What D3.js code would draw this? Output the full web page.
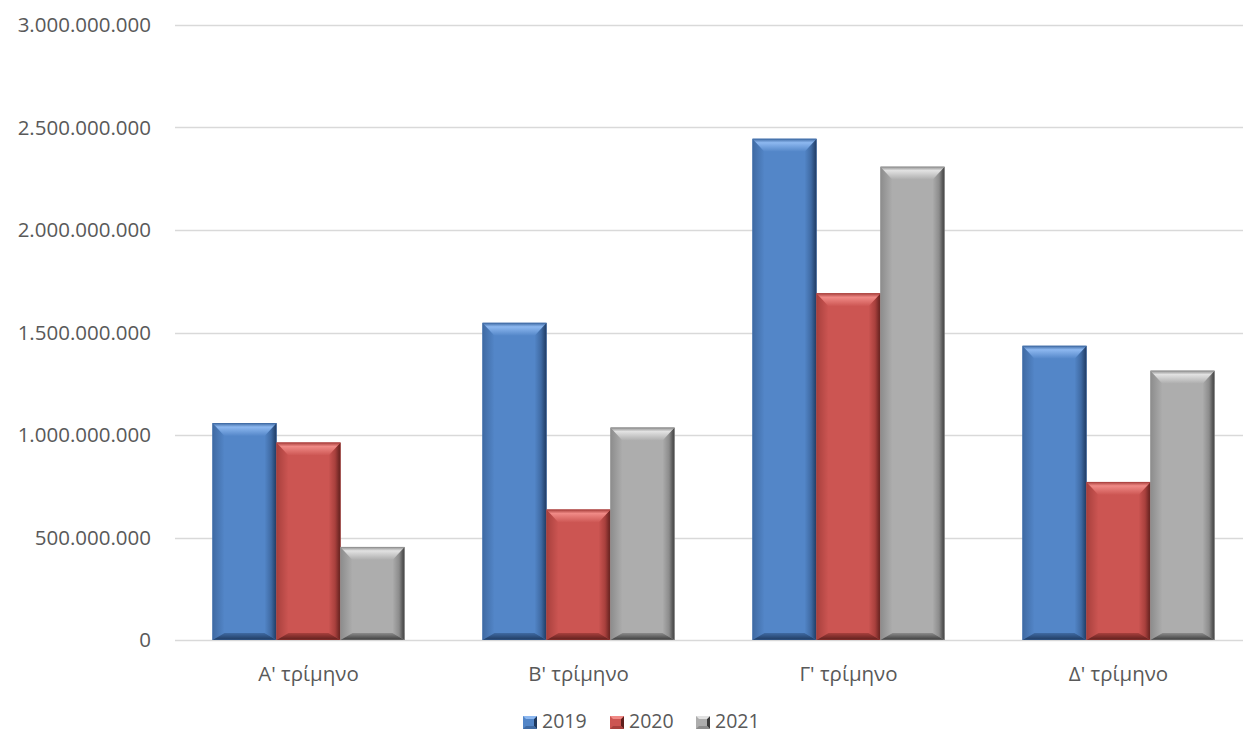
<!DOCTYPE html>
<html><head><meta charset="utf-8">
<script src="https://cdn.jsdelivr.net/npm/d3@7"></script>
<style>
html,body{margin:0;padding:0;background:#fff;overflow:hidden;}
text{font-family:"Open Sans","Noto Sans",sans-serif;fill:#595959;}
</style></head>
<body>
<svg id="c" width="1243" height="735"></svg>
<script>
const categories = ["Α' τρίμηνο","Β' τρίμηνο","Γ' τρίμηνο","Δ' τρίμηνο"];
const seriesNames = ["2019","2020","2021"];
const values2019 = [1058000000, 1547000000, 2445000000, 1435000000];
const values2020 = [963000000, 636000000, 1691000000, 771000000];
const values2021 = [454000000, 1036000000, 2309000000, 1314000000];
const yTicks = [0, 500000000, 1000000000, 1500000000, 2000000000, 2500000000, 3000000000];
const colors = {
  "2019": {base:"#5386c8", light:"#8db8f0", dark:"#1f3a60", mid:"#3f6aa3"},
  "2020": {base:"#cc5552", light:"#f08a86", dark:"#5e1f1d", mid:"#a8403d"},
  "2021": {base:"#adadad", light:"#e2e2e2", dark:"#3c3c3c", mid:"#8c8c8c"}
};
const seriesValues = [values2019, values2020, values2021];

const svg = d3.select("#c");
const mLeft = 175, mRight = 1255, mTop = 25, mBottom = 640;

const x = d3.scaleBand().domain(categories).range([mLeft - 1.5, mRight - 1.5]).padding(0);
const xs = d3.scaleBand().domain(seriesNames).range([0, x.bandwidth()]).paddingInner(0).paddingOuter(0.61);
const y = d3.scaleLinear().domain([0, 3000000000]).range([mBottom, mTop]);

const loc = d3.formatLocale({decimal:",", thousands:".", grouping:[3], currency:["€",""]});
const fmt = loc.format(",d");

// gradients
const defs = svg.append("defs");
seriesNames.forEach(s => {
  const c = colors[s];
  const gt = defs.append("linearGradient").attr("id","top"+s).attr("x1",0).attr("y1",0).attr("x2",0).attr("y2",1);
  gt.append("stop").attr("offset","0%").attr("stop-color",c.mid);
  gt.append("stop").attr("offset","30%").attr("stop-color",c.light);
  gt.append("stop").attr("offset","100%").attr("stop-color",c.base);
  const gr = defs.append("linearGradient").attr("id","right"+s).attr("x1",0).attr("y1",0).attr("x2",1).attr("y2",0);
  gr.append("stop").attr("offset","0%").attr("stop-color",c.base);
  gr.append("stop").attr("offset","55%").attr("stop-color",c.mid);
  gr.append("stop").attr("offset","100%").attr("stop-color",c.dark);
  const gb = defs.append("linearGradient").attr("id","bot"+s).attr("x1",0).attr("y1",0).attr("x2",0).attr("y2",1);
  gb.append("stop").attr("offset","0%").attr("stop-color",c.mid);
  gb.append("stop").attr("offset","100%").attr("stop-color",c.dark);
  const gl = defs.append("linearGradient").attr("id","left"+s).attr("x1",0).attr("y1",0).attr("x2",1).attr("y2",0);
  gl.append("stop").attr("offset","0%").attr("stop-color",c.mid);
  gl.append("stop").attr("offset","100%").attr("stop-color",c.base);
});

// gridlines
svg.append("g").selectAll("line").data(yTicks).join("line")
  .attr("x1", mLeft).attr("x2", mRight)
  .attr("y1", d => Math.round(y(d)) + 0.5).attr("y2", d => Math.round(y(d)) + 0.5)
  .attr("stroke", "#d9d9d9").attr("stroke-width", 1.3);

// y labels
svg.append("g").selectAll("text").data(yTicks).join("text")
  .attr("x", 151).attr("y", d => y(d)).attr("dy", "0.35em")
  .attr("text-anchor", "end").attr("font-size", "20.5px")
  .text(d => fmt(d));

// bars
function bevelBar(g, s, x0, x1, y0, y1) {
  const h = y1 - y0, w = x1 - x0;
  const bt = Math.min(13, h/2), bs = Math.min(12, w/2), bb = Math.min(7, h/3);
  g.append("rect").attr("x", x0).attr("y", y0).attr("width", w).attr("height", h).attr("fill", colors[s].base);
  g.append("polygon").attr("points", [[x0,y0],[x0+bs,y0+bt],[x0+bs,y1-bb],[x0,y1]].join(" ")).attr("fill","url(#left"+s+")");
  g.append("polygon").attr("points", [[x1,y0],[x1,y1],[x1-bs,y1-bb],[x1-bs,y0+bt]].join(" ")).attr("fill","url(#right"+s+")");
  g.append("polygon").attr("points", [[x0,y1],[x1,y1],[x1-bs,y1-bb],[x0+bs,y1-bb]].join(" ")).attr("fill","url(#bot"+s+")");
  g.append("polygon").attr("points", [[x0,y0],[x1,y0],[x1-bs,y0+bt],[x0+bs,y0+bt]].join(" ")).attr("fill","url(#top"+s+")");
  g.append("rect").attr("x", x0+0.3).attr("y", y0+0.3).attr("width", w-0.6).attr("height", h-0.6)
    .attr("fill","none").attr("stroke", colors[s].mid).attr("stroke-width",0.6).attr("stroke-opacity",0.7);
}
const barsG = svg.append("g");
categories.forEach((cat, i) => {
  seriesNames.forEach((s, j) => {
    const v = seriesValues[j][i];
    const x0 = x(cat) + xs(s), x1 = x0 + xs.bandwidth();
    bevelBar(barsG.append("g"), s, x0, x1, y(v), y(0));
  });
});

// x labels
svg.append("g").selectAll("text").data(categories).join("text")
  .attr("x", d => x(d) + x.bandwidth()/2).attr("y", 681)
  .attr("text-anchor", "middle").attr("font-size", "20.5px")
  .text(d => d);

// legend
function bevelLegend(g, s, x0, y0) {
  const w = 14, h = 13, x1 = x0 + w, y1 = y0 + h, b = 3;
  g.append("rect").attr("x", x0).attr("y", y0).attr("width", w).attr("height", h).attr("fill", colors[s].base);
  g.append("polygon").attr("points", [[x1,y0],[x1,y1],[x1-b,y1-b],[x1-b,y0+b]].join(" ")).attr("fill", colors[s].dark);
  g.append("polygon").attr("points", [[x0,y1],[x1,y1],[x1-b,y1-b],[x0+b,y1-b]].join(" ")).attr("fill", colors[s].mid);
  g.append("polygon").attr("points", [[x0,y0],[x1,y0],[x1-b,y0+b],[x0+b,y0+b]].join(" ")).attr("fill", colors[s].light);
}
const legendX = [523, 610, 696];
const lg = svg.append("g");
seriesNames.forEach((s, j) => {
  const g = lg.append("g");
  bevelLegend(g, s, legendX[j], 716);
  g.append("text").attr("x", legendX[j] + 19).attr("y", 728)
    .attr("font-size","19.5px").text(s);
});
</script>
</body></html>
